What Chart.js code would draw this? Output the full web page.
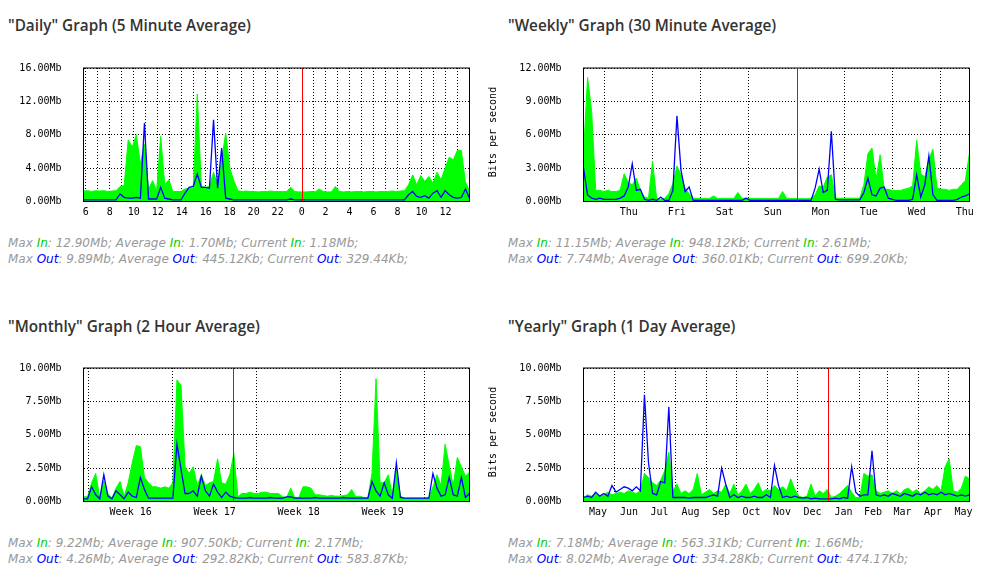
<!DOCTYPE html>
<html>
<head>
<meta charset="utf-8">
<script src="https://cdn.jsdelivr.net/npm/chart.js@4.4.1/dist/chart.umd.min.js"></script>
<style>
    html, body { margin: 0; padding: 0; background: #fff; }
    #page { position: relative; width: 996px; height: 588px; overflow: hidden; }
    .title { position: absolute; font-family: "Open Sans", sans-serif; font-weight: 600; font-size: 15.3px; line-height: 20px; color: #333; white-space: nowrap; }
    .stats { position: absolute; font-family: "DejaVu Sans", sans-serif; font-style: italic; font-size: 12px; line-height: 16px; color: #999; white-space: nowrap; }
    .stats .in { color: #00cc00; }
    .stats .out { color: #0000ff; }
    .graph { position: absolute; }
    .bps { position: absolute; font-family: "DejaVu Sans Mono", monospace; font-size: 10px; color: #000; white-space: nowrap; transform: translate(-50%, -50%) rotate(-90deg); }
</style>
</head>
<body>
<div id="page">
    <div class="title" style="left:8px; top:15px;">"Daily" Graph (5 Minute Average)</div>
    <div class="title" style="left:508px; top:15px;">"Weekly" Graph (30 Minute Average)</div>
    <div class="title" style="left:8px; top:315.5px;">"Monthly" Graph (2 Hour Average)</div>
    <div class="title" style="left:508px; top:315.5px;">"Yearly" Graph (1 Day Average)</div>

    <canvas id="daily" class="graph" width="498" height="190" style="left:0px; top:40px;"></canvas>
    <canvas id="weekly" class="graph" width="496" height="190" style="left:500px; top:40px;"></canvas>
    <canvas id="monthly" class="graph" width="498" height="190" style="left:0px; top:340px;"></canvas>
    <canvas id="yearly" class="graph" width="496" height="190" style="left:500px; top:340px;"></canvas>

    <div class="bps" style="left:492px; top:132px;">Bits per second</div>
    <div class="bps" style="left:492px; top:432px;">Bits per second</div>

    <div class="stats" style="left:8px; top:235px;">
        Max <span class="in">In</span>: 12.90Mb; Average <span class="in">In</span>: 1.70Mb; Current <span class="in">In</span>: 1.18Mb;<br>
        Max <span class="out">Out</span>: 9.89Mb; Average <span class="out">Out</span>: 445.12Kb; Current <span class="out">Out</span>: 329.44Kb;
    </div>
    <div class="stats" style="left:508px; top:235px;">
        Max <span class="in">In</span>: 11.15Mb; Average <span class="in">In</span>: 948.12Kb; Current <span class="in">In</span>: 2.61Mb;<br>
        Max <span class="out">Out</span>: 7.74Mb; Average <span class="out">Out</span>: 360.01Kb; Current <span class="out">Out</span>: 699.20Kb;
    </div>
    <div class="stats" style="left:8px; top:534.5px;">
        Max <span class="in">In</span>: 9.22Mb; Average <span class="in">In</span>: 907.50Kb; Current <span class="in">In</span>: 2.17Mb;<br>
        Max <span class="out">Out</span>: 4.26Mb; Average <span class="out">Out</span>: 292.82Kb; Current <span class="out">Out</span>: 583.87Kb;
    </div>
    <div class="stats" style="left:508px; top:534.5px;">
        Max <span class="in">In</span>: 7.18Mb; Average <span class="in">In</span>: 563.31Kb; Current <span class="in">In</span>: 1.66Mb;<br>
        Max <span class="out">Out</span>: 8.02Mb; Average <span class="out">Out</span>: 334.28Kb; Current <span class="out">Out</span>: 474.17Kb;
    </div>
</div>

<script>
// Daily graph (hours since first midnight, one value per 20 minutes, Mb/s)
const dailyStart = 5.82, dailyEnd = 37.99;
const dailyIn = [
    1.25, 1.3, 1.2, 1.3, 1.25, 1.3, 1.2, 1.25, 1.3,
    1.8, 1.9, 7.4, 6.5, 8.0, 4.5, 6.9, 1.5, 2.5, 1.3, 7.8,
    2.0, 2.6, 1.2, 1.2, 1.2, 1.5, 1.6, 1.6, 12.9, 1.8,
    1.7, 1.8, 3.5, 2.0, 5.0, 8.2, 4.0, 2.5, 1.3,
    1.2, 1.25, 1.2, 1.2, 1.15, 1.2, 1.2, 1.25, 1.2, 1.2, 1.2,
    1.2, 1.7, 1.2, 1.15, 1.15,
    1.15, 1.2, 1.15, 1.5, 1.2, 1.15, 1.15,
    1.8,
    1.2, 1.15, 1.2, 1.15, 1.2, 1.2, 1.15, 1.2, 1.2, 1.15, 1.2, 1.2, 1.2, 1.25, 1.2, 1.25, 1.3,
    2.0, 3.2, 2.0, 3.1, 2.4, 3.0, 2.2, 3.5, 2.6, 4.0, 5.3, 5.0, 6.1, 6.1, 2.3, 1.3
];
const dailyOut = [
    0.2, 0.2, 0.2, 0.2, 0.2, 0.2, 0.2, 0.2, 0.2,
    0.9, 0.5, 0.4, 0.4, 0.5, 0.4, 9.4, 0.3, 0.3, 0.3, 1.7,
    0.4, 0.3, 0.2, 0.2, 0.2, 1.0, 1.7, 1.8, 3.3, 1.7,
    1.7, 1.6, 9.8, 1.6, 6.4, 0.4, 0.3, 0.2, 0.2,
    0.2, 0.2, 0.2, 0.2, 0.2, 0.2, 0.2, 0.2, 0.2, 0.2, 0.2,
    0.2, 0.3,
    0.2, 0.2, 0.2, 0.2, 0.2, 0.2, 0.2, 0.2, 0.2, 0.2, 0.2, 0.2, 0.2, 0.2,
    0.2, 0.2, 0.2, 0.2, 0.2, 0.2, 0.2, 0.2, 0.2, 0.2, 0.2, 0.2, 0.2, 0.2,
    0.8, 1.2, 0.6, 0.5, 0.7, 0.4, 1.0, 1.3, 0.5, 1.3, 0.8, 0.5, 0.4, 0.5, 1.5, 0.4
];
const dailyGrid = [6, 7, 8, 9, 10, 11, 12, 13, 14, 15, 16, 17, 18, 19, 20, 21, 22, 23, 24,
                   25, 26, 27, 28, 29, 30, 31, 32, 33, 34, 35, 36, 37];
const dailyTickPos = [6, 8, 10, 12, 14, 16, 18, 20, 22, 24, 26, 28, 30, 32, 34, 36];
const dailyTickText = ['6', '8', '10', '12', '14', '16', '18', '20', '22', '0', '2', '4', '6', '8', '10', '12'];
const dailyYTicks = [0, 4, 8, 12, 16];
const dailyMarker = 24;

// Weekly graph (days since Wednesday midnight, one value per 2 hours)
const weeklyStart = 0.559, weeklyEnd = 8.60;
const weeklyIn = [
    4.3, 11.15, 8.1, 1.0, 1.0, 0.9, 1.0, 0.9, 0.9, 1.0,
    2.5, 1.7, 1.5, 2.1, 1.0, 0.4, 0.3, 3.6, 0.3, 0.2,
    0.3, 0.7, 1.6, 3.2, 2.4, 1.2, 0.7, 0.3,
    0.28, 0.28, 0.28, 0.28, 0.5, 0.28, 0.28, 0.28, 0.28, 0.28,
    0.8, 0.28, 0.3, 0.28, 0.28, 0.28, 0.28, 0.28, 0.28, 0.28,
    0.28, 0.9, 0.28, 0.28, 0.28, 0.25, 0.25, 0.25, 0.3,
    0.6, 1.4, 1.3, 2.2, 2.4, 0.3,
    0.3, 0.3, 0.3, 0.3, 0.3, 0.3,
    1.5, 4.3, 4.8, 2.0, 4.2, 1.1, 1.1, 1.0, 1.0, 1.0,
    1.1, 1.2, 1.4, 5.5, 2.5, 2.2, 3.8, 4.7, 1.2, 1.1,
    1.1, 1.0, 1.1, 1.1, 1.5, 1.9, 4.4
];
const weeklyOut = [
    3.0, 0.6, 0.3, 0.2, 0.3, 0.2, 0.2, 0.2, 0.2, 0.3,
    0.5, 1.3, 3.4, 1.0, 1.1, 0.2, 0.1, 0.2, 0.1, 0.4,
    0.1, 0.1, 1.0, 7.7, 2.8, 0.9, 1.3, 0.1,
    0.1, 0.1, 0.1, 0.1, 0.1, 0.1, 0.1, 0.1, 0.1, 0.1,
    0.1, 0.1, 0.3, 0.1, 0.1, 0.1, 0.1, 0.1, 0.1, 0.1,
    0.1, 0.1, 0.1, 0.1, 0.1, 0.1, 0.1, 0.1, 0.1,
    1.2, 2.9, 0.8, 1.0, 6.3, 0.2,
    0.15, 0.15, 0.15, 0.15, 0.15, 0.15,
    0.8, 2.1, 0.6, 0.5, 1.2, 1.3, 0.3, 0.2, 0.1, 0.1,
    0.1, 0.1, 0.2, 2.4, 0.4, 1.5, 4.1, 0.6, 0.1, 0.1,
    0.1, 0.1, 0.1, 0.2, 0.4, 0.5, 0.7
];
const weeklyGrid = [1, 2, 3, 4, 5, 6, 7, 8];
const weeklyTickPos = [1.5, 2.5, 3.5, 4.5, 5.5, 6.5, 7.5, 8.5];
const weeklyTickText = ['Thu', 'Fri', 'Sat', 'Sun', 'Mon', 'Tue', 'Wed', 'Thu'];
const weeklyYTicks = [0, 3, 6, 9, 12];
const weeklyMarker = 5;

// Monthly graph (days since start of week 16, one value per 8 hours)
const monthlyStart = -0.43, monthlyEnd = 31.74;
const monthlyIn = [
    0.35, 0.35, 1.4, 2.1, 0.3, 1.5, 0.6, 0.25, 1.0, 1.5,
    0.4, 1.4, 2.9, 4.2, 4.1, 1.8, 1.4, 1.1, 1.1, 1.0,
    1.1, 1.0, 1.4, 9.1, 8.7, 2.6, 2.1, 2.6, 1.2, 2.0,
    1.2, 1.4, 1.5, 3.2, 1.4, 1.3, 2.0, 3.6, 0.35, 0.6,
    0.6, 0.7, 0.6, 0.6, 0.7, 0.7, 0.6, 0.6, 0.6, 0.35,
    0.3, 1.0, 0.3, 0.3, 1.1, 1.1, 1.0, 0.5, 0.5, 0.45,
    0.4, 0.45, 0.4, 0.4, 0.45, 0.5, 0.9, 0.35, 0.4, 0.3,
    0.3, 2.1, 9.2, 1.4, 1.4, 2.0, 0.5, 2.5, 0.4, 0.25,
    0.25, 0.25, 0.25, 0.25, 0.25, 0.3, 1.1, 2.0, 1.2, 4.3,
    2.7, 1.2, 3.3, 2.6, 1.9, 2.2
];
const monthlyOut = [
    0.2, 0.2, 1.1, 0.5, 0.2, 2.0, 0.4, 0.2, 0.8, 0.5,
    0.2, 0.7, 0.4, 0.3, 1.8, 0.9, 0.25, 0.25, 0.25, 0.25,
    0.25, 0.25, 0.25, 4.3, 2.4, 0.6, 0.6, 0.8, 0.4, 1.9,
    0.8, 0.4, 1.3, 0.7, 0.3, 0.7, 0.4, 0.3,
    0.25, 0.25, 0.25, 0.3, 0.25, 0.25, 0.25, 0.25, 0.3, 0.25, 0.25, 0.25,
    0.35, 0.35,
    0.25, 0.25, 0.25, 0.25, 0.25, 0.3, 0.25, 0.25, 0.25, 0.25,
    0.25, 0.25, 0.3, 0.25, 0.25, 0.25, 0.25, 0.25, 0.25,
    1.5, 0.8, 0.4, 1.4, 0.5, 0.25, 2.9, 0.3,
    0.25, 0.25, 0.25, 0.25, 0.25, 0.25, 0.25,
    2.1, 1.0, 0.4, 0.5, 1.8, 0.5, 0.4, 1.8, 0.3, 0.6
];
const monthlyGrid = [0, 7, 14, 21, 28];
const monthlyTickPos = [3.5, 10.5, 17.5, 24.5];
const monthlyTickText = ['Week 16', 'Week 17', 'Week 18', 'Week 19'];
const monthlyYTicks = [0, 2.5, 5, 7.5, 10];
const monthlyMarker = 12;

// Yearly graph (days since 1 June, one value per 4 days)
const yearlyStart = -30.5, yearlyEnd = 355.5;
const yearlyIn = [
    0.3, 0.5, 0.4, 0.6, 0.4, 0.5, 0.7, 0.5, 0.6, 0.7,
    0.6, 0.8, 0.7, 0.6, 0.8, 2.1, 1.8, 1.4, 1.2, 1.6,
    2.3, 3.7, 0.8, 1.3, 0.6, 0.8, 0.6, 0.9, 2.1, 0.5,
    0.7, 0.9, 0.6, 0.8, 0.7, 1.3, 0.6, 1.3, 0.5, 0.8,
    1.3, 0.6, 0.9, 1.4, 0.7, 0.9, 0.8, 1.2, 0.9, 1.1,
    0.8, 1.7, 0.9, 0.4, 0.3, 0.4, 1.3, 0.4, 0.8, 0.6,
    0.9, 0.3, 0.4, 0.6, 0.9, 1.2, 0.7, 0.3, 0.3, 2.1,
    1.9, 2.0, 0.8, 0.6, 0.7, 0.8, 0.6, 0.8, 0.6, 0.9,
    1.0, 0.7, 0.9, 0.6, 0.8, 1.1, 0.9, 1.2, 0.8, 2.6,
    3.2, 0.8, 0.7, 1.0, 1.9, 1.7
];
const yearlyOut = [
    0.3, 0.4, 0.3, 0.7, 0.4, 0.6, 0.4, 1.2, 0.7, 0.9,
    1.1, 1.0, 0.8, 1.1, 0.8, 8.0, 2.9, 0.6, 0.5, 1.5,
    1.4, 7.1, 0.3, 0.3, 0.3, 0.3, 0.25, 0.3, 0.3, 0.3,
    0.3, 0.4, 0.5, 0.4, 2.5, 1.3, 0.3, 0.5, 0.3, 0.4,
    0.3, 0.3, 0.4, 0.3, 0.3, 0.5, 0.3, 2.7, 1.2, 0.3,
    0.4, 0.3, 0.4, 0.3, 0.25, 0.3, 0.2, 0.25, 0.2, 0.2,
    0.2, 0.2, 0.25, 0.2, 0.3, 0.25, 2.6, 0.7, 0.4, 0.5,
    0.5, 3.8, 0.5, 0.4, 0.5, 0.4, 0.6, 0.5, 0.4, 0.6,
    0.5, 0.4, 0.6, 0.5, 0.7, 0.5, 0.6, 0.5, 0.7, 0.5,
    0.6, 0.5, 0.4, 0.5, 0.4, 0.5
];
const yearlyGrid = [0, 30, 61, 92, 122, 153, 183, 214, 245, 273, 304, 334];
const yearlyTickPos = [-16, 15, 45.5, 76.5, 107, 137.5, 168, 198.5, 229.5, 259, 288.5, 319, 349.5];
const yearlyTickText = ['May', 'Jun', 'Jul', 'Aug', 'Sep', 'Oct', 'Nov', 'Dec', 'Jan', 'Feb', 'Mar', 'Apr', 'May'];
const yearlyYTicks = [0, 2.5, 5, 7.5, 10];
const yearlyMarker = 214;

// Couleurs MRTG
const IN_COLOR = '#00ff00';
const OUT_COLOR = '#0000ff';
const AXIS_FONT = { family: 'DejaVu Sans Mono', size: 10 };

// Cadre noir + trait rouge vertical
const framePlugin = {
    id: 'mrtgFrame',
    afterDraw(chart, args, opts) {
        const { ctx, chartArea: a } = chart;
        const px = Math.round(chart.scales.x.getPixelForValue(opts.marker)) + 0.5;
        ctx.save();
        ctx.lineWidth = 1;
        ctx.strokeStyle = '#ff0000';
        ctx.beginPath();
        ctx.moveTo(px, a.top);
        ctx.lineTo(px, a.bottom);
        ctx.stroke();
        ctx.strokeStyle = '#000';
        ctx.strokeRect(a.left, a.top, a.right - a.left, a.bottom - a.top);
        ctx.restore();
    }
};

// grid ticks and label ticks merged on one axis
function buildXTicks(grid, pos, text, marker) {
    const map = new Map();
    grid.forEach(v => map.set(v, { value: v, grid: v !== marker, text: '' }));
    pos.forEach((v, k) => {
        const t = map.get(v) || { value: v, grid: false, text: '' };
        t.text = text[k];
        map.set(v, t);
    });
    return [...map.values()].sort((a, b) => a.value - b.value);
}

function makeGraph(id, p) {
    const n = p.inData.length;
    const step = (p.end - p.start) / (n - 1);
    const toPoints = arr => arr.map((v, i) => ({ x: p.start + i * step, y: v }));

    new Chart(document.getElementById(id), {
        type: 'line',
        data: {
            datasets: [
                {
                    label: 'Out',
                    data: toPoints(p.outData),
                    borderColor: OUT_COLOR,
                    borderWidth: 1.3,
                    pointRadius: 0,
                    tension: 0,
                    fill: false
                },
                {
                    label: 'In',
                    data: toPoints(p.inData),
                    borderColor: IN_COLOR,
                    backgroundColor: IN_COLOR,
                    borderWidth: 1,
                    pointRadius: 0,
                    tension: 0,
                    fill: 'origin'
                }
            ]
        },
        options: {
            responsive: false,
            animation: false,
            events: [],
            layout: { padding: { left: 0, top: 21.5, right: p.padRight, bottom: 0 } },
            plugins: {
                legend: { display: false },
                tooltip: { enabled: false },
                mrtgFrame: { marker: p.marker }
            },
            scales: {
                x: {
                    type: 'linear',
                    min: p.start,
                    max: p.end,
                    z: 1,
                    border: { display: false, dash: [1, 2] },
                    grid: {
                        color: c => (c.tick && c.tick.grid) ? '#000' : 'rgba(0,0,0,0)',
                        lineWidth: 1,
                        drawTicks: false
                    },
                    afterBuildTicks: scale => { scale.ticks = buildXTicks(p.grid, p.tickPos, p.tickText, p.marker); },
                    afterFit: scale => { scale.height = 28.5; },
                    ticks: {
                        autoSkip: false,
                        maxRotation: 0,
                        padding: 5,
                        color: '#000',
                        font: AXIS_FONT,
                        callback: (v, i, ticks) => ticks[i].text
                    }
                },
                y: {
                    min: 0,
                    max: p.yTicks[p.yTicks.length - 1],
                    z: 1,
                    border: { display: false, dash: [1, 2] },
                    grid: { color: '#000', lineWidth: 1, drawTicks: false },
                    afterBuildTicks: scale => { scale.ticks = p.yTicks.map(v => ({ value: v })); },
                    afterFit: scale => { scale.width = 83.5; },
                    ticks: {
                        padding: 22,
                        color: '#000',
                        font: AXIS_FONT,
                        callback: v => v.toFixed(2) + 'Mb'
                    }
                }
            }
        },
        plugins: [framePlugin]
    });
}

makeGraph('daily', {
    start: dailyStart, end: dailyEnd, inData: dailyIn, outData: dailyOut,
    grid: dailyGrid, tickPos: dailyTickPos, tickText: dailyTickText,
    yTicks: dailyYTicks, marker: dailyMarker, padRight: 28.5
});
makeGraph('weekly', {
    start: weeklyStart, end: weeklyEnd, inData: weeklyIn, outData: weeklyOut,
    grid: weeklyGrid, tickPos: weeklyTickPos, tickText: weeklyTickText,
    yTicks: weeklyYTicks, marker: weeklyMarker, padRight: 26.5
});
makeGraph('monthly', {
    start: monthlyStart, end: monthlyEnd, inData: monthlyIn, outData: monthlyOut,
    grid: monthlyGrid, tickPos: monthlyTickPos, tickText: monthlyTickText,
    yTicks: monthlyYTicks, marker: monthlyMarker, padRight: 28.5
});
makeGraph('yearly', {
    start: yearlyStart, end: yearlyEnd, inData: yearlyIn, outData: yearlyOut,
    grid: yearlyGrid, tickPos: yearlyTickPos, tickText: yearlyTickText,
    yTicks: yearlyYTicks, marker: yearlyMarker, padRight: 26.5
});
</script>
</body>
</html>
